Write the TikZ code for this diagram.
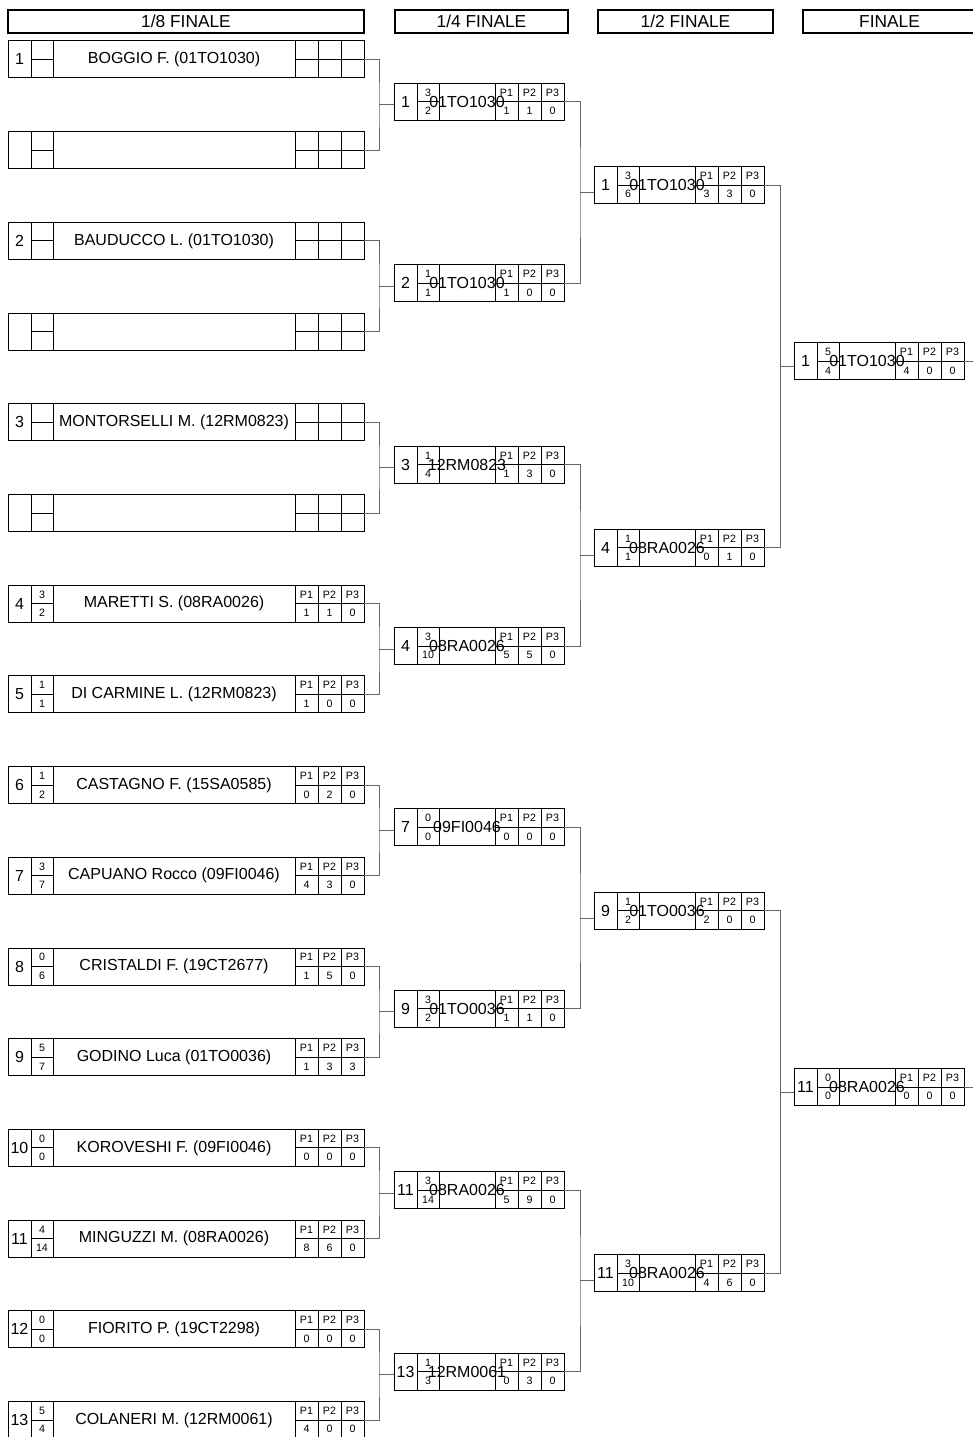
\documentclass[tikz,border=0pt]{standalone}
\usepackage{fontspec}
\setmainfont{Liberation Sans}
\usetikzlibrary{positioning,calc}

\newcommand{\pxu}{0.75pt}

\tikzset{
  head/.style={draw, line width=1.5pt, inner sep=0pt, minimum height=23*\pxu, font=\fontsize{13}{15}\selectfont},
  numcell/.style={draw, line width=0.75pt, inner sep=0pt, outer sep=0pt, minimum width=23*\pxu, minimum height=37*\pxu, font=\fontsize{12}{14}\selectfont},
  halfcell/.style={draw, line width=0.75pt, inner sep=0pt, outer sep=0pt, minimum width=22*\pxu, minimum height=18.5*\pxu, font=\fontsize{8}{9}\selectfont},
  pcell/.style={halfcell, minimum width=23*\pxu},
  namecell/.style={draw, line width=0.75pt, inner sep=0pt, outer sep=0pt, minimum height=37*\pxu},
  nametext/.style={inner sep=0pt, font=\fontsize{12}{14}\selectfont},
  pointtext/.style={inner sep=0pt, font=\fontsize{8}{9}\selectfont},
  link/.style={draw=black!60, line width=0.75pt}
}

\newcommand{\scorerow}[8]{%
  \node[numcell, anchor=west] (#1-no) at #2 {#4};
  \node[halfcell, anchor=south west] (#1-sa) at (#1-no.east) {#5};
  \node[halfcell, anchor=north west] (#1-sb) at (#1-no.east) {#6};
  \node[namecell, minimum width=#3*\pxu, right=0pt of #1-sa.south east] (#1-cell) {};
  \node[nametext] (#1-who) at (#1-cell) {#7};
  \foreach \k in {1,2,3} {
    \node[pcell, anchor=south west, xshift={(\k-1)*23*\pxu}] (#1-p\k) at (#1-cell.east)
      {\if\relax\detokenize\expandafter{#8}\relax\else P\k\fi};
    \node[pcell, anchor=north west, xshift={(\k-1)*23*\pxu}] (#1-v\k) at (#1-cell.east) {};
  }
  \foreach \v [count=\k] in #8 \node[pointtext] (#1-t\k) at (#1-v\k) {\v};
  \coordinate (#1-out) at (#1-p3.south east);
}

\begin{document}
\begin{tikzpicture}[x=\pxu, y=-\pxu]
\useasboundingbox (0,0) rectangle (973,1437);

\node[head, minimum width=356*\pxu] (h1) at (186,21.5) {1/8 FINALE};
\node[head, minimum width=173*\pxu] (h2) at (481.5,21.5) {1/4 FINALE};
\node[head, minimum width=175*\pxu] (h3) at (685.5,21.5) {1/2 FINALE};
\node[head, minimum width=173*\pxu] (h4) at (889.5,21.5) {FINALE};

\foreach \i/\no/\sa/\sb/\who/\pts in {
  1/1/{}/{}/{BOGGIO F. (01TO1030)}/{},
  2/{}/{}/{}/{}/{},
  3/2/{}/{}/{BAUDUCCO L. (01TO1030)}/{},
  4/{}/{}/{}/{}/{},
  5/3/{}/{}/{MONTORSELLI M. (12RM0823)}/{},
  6/{}/{}/{}/{}/{},
  7/4/3/2/{MARETTI S. (08RA0026)}/{1,1,0},
  8/5/1/1/{DI CARMINE L. (12RM0823)}/{1,0,0},
  9/6/1/2/{CASTAGNO F. (15SA0585)}/{0,2,0},
  10/7/3/7/{CAPUANO Rocco (09FI0046)}/{4,3,0},
  11/8/0/6/{CRISTALDI F. (19CT2677)}/{1,5,0},
  12/9/5/7/{GODINO Luca (01TO0036)}/{1,3,3},
  13/10/0/0/{KOROVESHI F. (09FI0046)}/{0,0,0},
  14/11/4/14/{MINGUZZI M. (08RA0026)}/{8,6,0},
  15/12/0/0/{FIORITO P. (19CT2298)}/{0,0,0},
  16/13/5/4/{COLANERI M. (12RM0061)}/{4,0,0}}{
  \pgfmathsetmacro\yy{59.5+90.7*(\i-1)}
  \scorerow{r\i}{(8,\yy)}{242}{\no}{\sa}{\sb}{\who}{\pts}
}

\foreach \i/\no/\sa/\sb/\who/\pts in {
  1/1/3/2/01TO1030/{1,1,0},
  2/2/1/1/01TO1030/{1,0,0},
  3/3/1/4/12RM0823/{1,3,0},
  4/4/3/10/08RA0026/{5,5,0},
  5/7/0/0/09FI0046/{0,0,0},
  6/9/3/2/01TO0036/{1,1,0},
  7/11/3/14/08RA0026/{5,9,0},
  8/13/1/3/12RM0061/{0,3,0}}{
  \pgfmathsetmacro\yy{101.85+181.4*(\i-1)}
  \scorerow{q\i}{(394,\yy)}{56}{\no}{\sa}{\sb}{\who}{\pts}
}

\foreach \i/\no/\sa/\sb/\who/\pts in {
  1/1/3/6/01TO1030/{3,3,0},
  2/4/1/1/08RA0026/{0,1,0},
  3/9/1/2/01TO0036/{2,0,0},
  4/11/3/10/08RA0026/{4,6,0}}{
  \pgfmathsetmacro\yy{185.05+362.8*(\i-1)}
  \scorerow{s\i}{(594,\yy)}{56}{\no}{\sa}{\sb}{\who}{\pts}
}

\foreach \i/\no/\sa/\sb/\who/\pts in {
  1/1/5/4/01TO1030/{4,0,0},
  2/11/0/0/08RA0026/{0,0,0}}{
  \pgfmathsetmacro\yy{361.45+725.6*(\i-1)}
  \scorerow{f\i}{(794,\yy)}{56}{\no}{\sa}{\sb}{\who}{\pts}
}

\foreach \i in {1,...,8}{
  \pgfmathtruncatemacro\a{2*\i-1}
  \pgfmathtruncatemacro\b{2*\i}
  \coordinate (jq\i) at ($(r\a-out)!.5!(r\b-out)+(15,0)$);
  \draw[link] (r\a-out) -| (jq\i) |- (r\b-out);
  \draw[link] (jq\i) -- (jq\i -| q\i-no.west);
}
\foreach \i in {1,...,4}{
  \pgfmathtruncatemacro\a{2*\i-1}
  \pgfmathtruncatemacro\b{2*\i}
  \coordinate (js\i) at ($(q\a-out)!.5!(q\b-out)+(16,0)$);
  \draw[link] (q\a-out) -| (js\i) |- (q\b-out);
  \draw[link] (js\i) -- (js\i -| s\i-no.west);
}
\foreach \i in {1,2}{
  \pgfmathtruncatemacro\a{2*\i-1}
  \pgfmathtruncatemacro\b{2*\i}
  \coordinate (jf\i) at ($(s\a-out)!.5!(s\b-out)+(16,0)$);
  \draw[link] (s\a-out) -| (jf\i) |- (s\b-out);
  \draw[link] (jf\i) -- (jf\i -| f\i-no.west);
}
\coordinate (edge) at (973,0);
\foreach \i in {1,2}
  \draw[link] (f\i-out) -- (f\i-out -| edge);
\end{tikzpicture}
\end{document}
